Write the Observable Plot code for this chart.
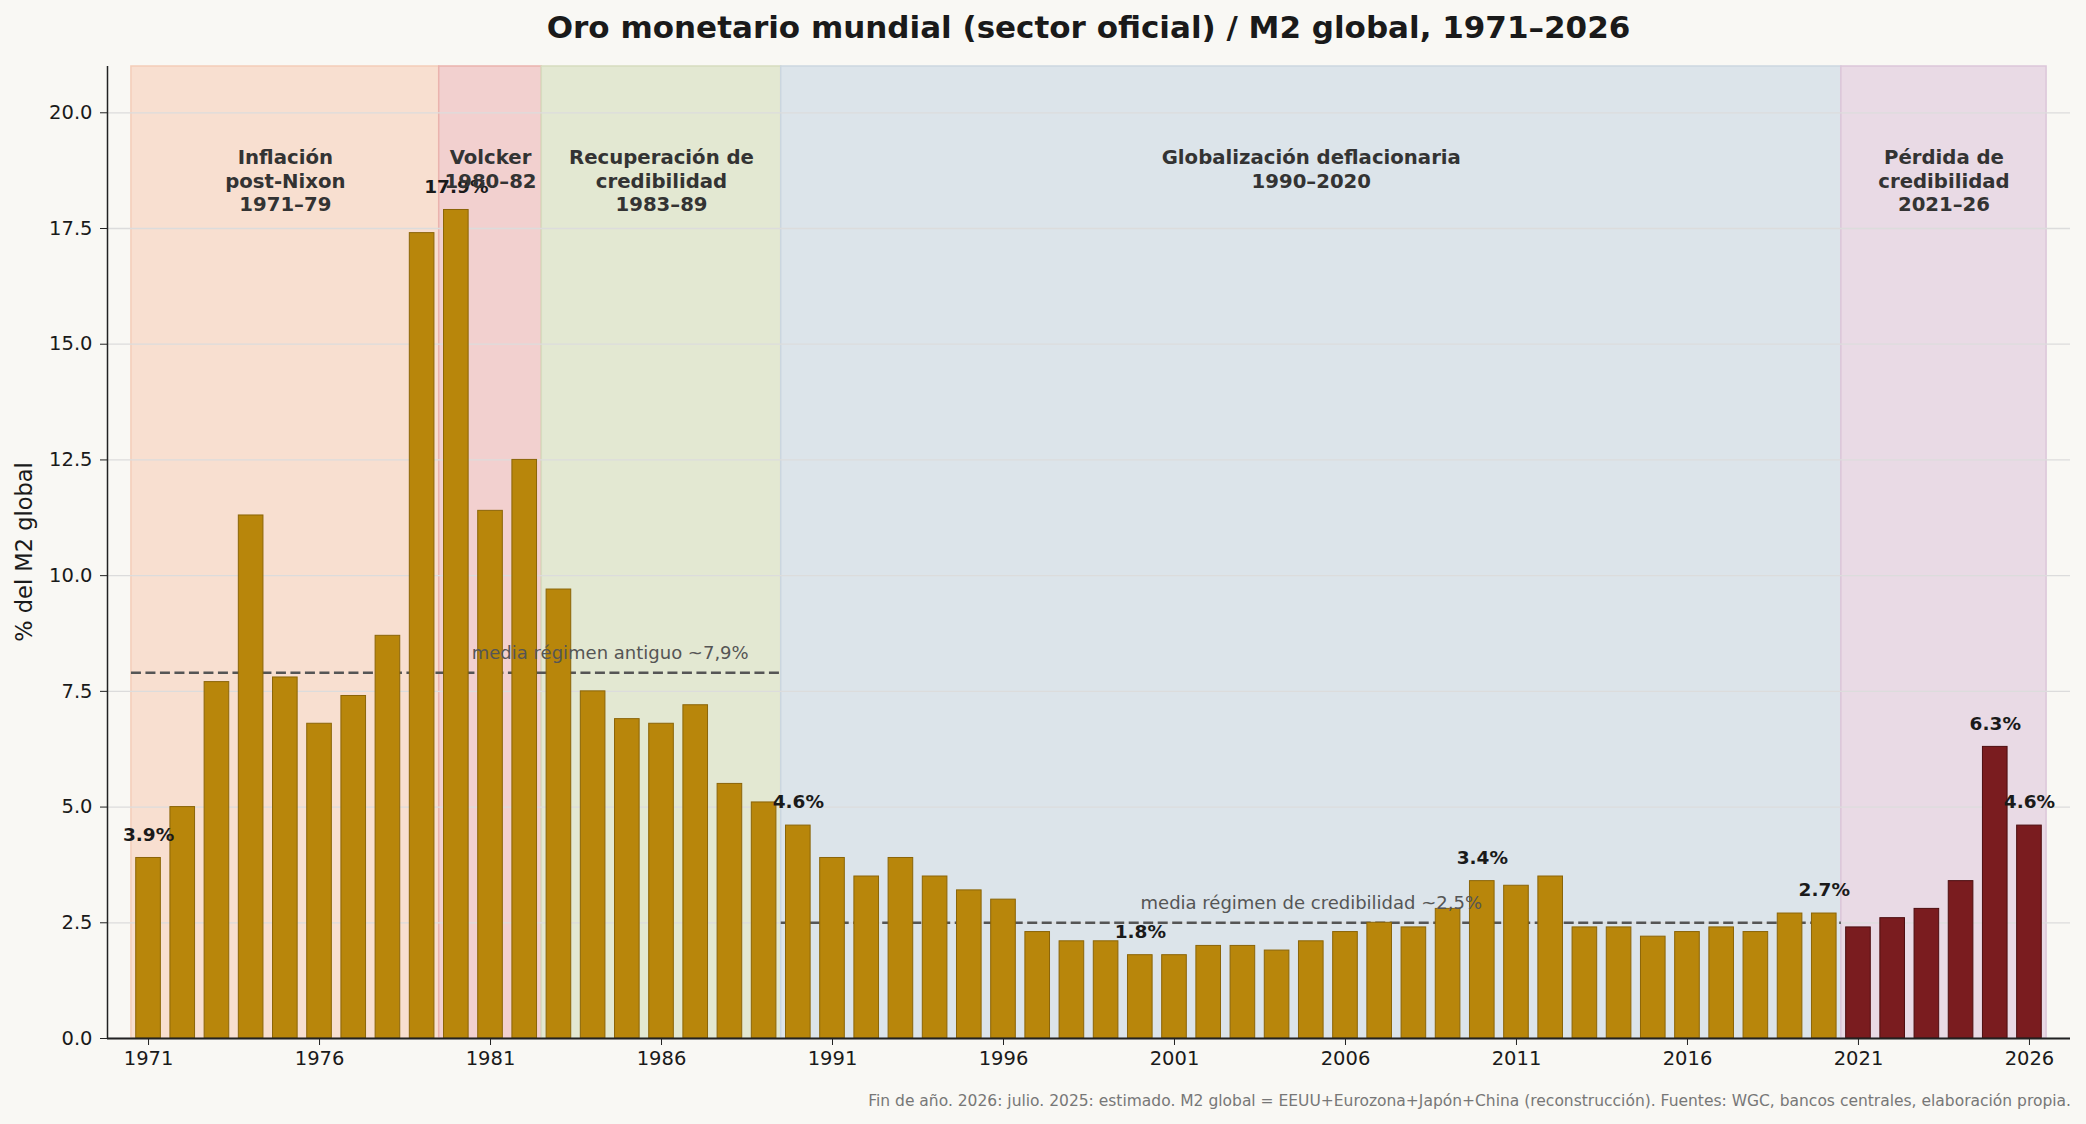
<!DOCTYPE html>
<html><head><meta charset="utf-8">
<script src="https://cdn.jsdelivr.net/npm/d3@7"></script>
<script src="https://cdn.jsdelivr.net/npm/@observablehq/plot@0.6"></script>
<style>
body{margin:0;background:#f9f8f4;}
#wrap{position:relative;width:2086px;height:1124px;background:#f9f8f4;font-family:"DejaVu Sans",sans-serif;overflow:hidden}
#chart{position:absolute;left:0;top:0}
#title{position:absolute;left:107px;width:1963px;top:9px;text-align:center;font-weight:bold;font-size:31px;color:#1a1a1a;white-space:nowrap}
#ylab{position:absolute;left:24px;top:552px;transform:translate(-50%,-50%) rotate(-90deg);font-size:22.5px;color:#1a1a1a;white-space:nowrap}
#cap{position:absolute;right:15px;top:1092px;font-size:15.5px;color:#777;white-space:nowrap}
</style></head><body>
<div id="wrap">
<div id="chart"></div>
<div id="title">Oro monetario mundial (sector oficial) / M2 global, 1971–2026</div>
<div id="ylab">% del M2 global</div>
<div id="cap">Fin de año. 2026: julio. 2025: estimado. M2 global = EEUU+Eurozona+Japón+China (reconstrucción). Fuentes: WGC, bancos centrales, elaboración propia.</div>
</div>
<script>
const years = [1971,1972,1973,1974,1975,1976,1977,1978,1979,1980,1981,1982,1983,1984,1985,1986,1987,1988,1989,1990,
  1991,1992,1993,1994,1995,1996,1997,1998,1999,2000,2001,2002,2003,2004,2005,2006,2007,2008,2009,2010,
  2011,2012,2013,2014,2015,2016,2017,2018,2019,2020,2021,2022,2023,2024,2025,2026];
const values = [3.9,5.0,7.7,11.3,7.8,6.8,7.4,8.7,17.4,17.9,11.4,12.5,9.7,7.5,6.9,6.8,7.2,5.5,5.1,4.6,
  3.9,3.5,3.9,3.5,3.2,3.0,2.3,2.1,2.1,1.8,1.8,2.0,2.0,1.9,2.1,2.3,2.5,2.4,2.8,3.4,
  3.3,3.5,2.4,2.4,2.2,2.3,2.4,2.3,2.7,2.7,2.4,2.6,2.8,3.4,6.3,4.6];
const labelYears = [1971,1980,1990,2000,2010,2020,2025,2026];

const regimeNames = ["Inflación\npost-Nixon\n1971–79","Volcker\n1980–82","Recuperación de\ncredibilidad\n1983–89","Globalización deflacionaria\n1990–2020","Pérdida de\ncredibilidad\n2021–26"];
const regimeStart = [1970.5,1979.5,1982.5,1989.5,2020.5];
const regimeEnd   = [1979.5,1982.5,1989.5,2020.5,2026.5];
const regimeFill  = ["#f8dfd0","#f2d0cf","#e3e8d2","#dce4ea","#e9dae5"];
const regimeEdge  = ["#f3cdb8","#eab3ad","#d6dcbf","#cbd6df","#dcc6d9"];

const meanLabels = ["media régimen antiguo ~7,9%","media régimen de credibilidad ~2,5%"];
const meanValues = [7.9,2.5];
const meanStart = [1970.5,1989.5];
const meanEnd = [1989.5,2020.5];
const meanLabelX = [1984.5,2005];

const xTicks = [1971,1976,1981,1986,1991,1996,2001,2006,2011,2016,2021,2026];
const yTicks = [0,2.5,5,7.5,10,12.5,15,17.5,20];
const xDomain = [1969.8,2027.2];
const yDomain = [0,21];

const data = years.map((y,i)=>({year:y, value:values[i], recent: y>=2021}));
const regimes = regimeNames.map((n,i)=>({name:n,start:regimeStart[i],end:regimeEnd[i],fill:regimeFill[i],edge:regimeEdge[i]}));
const means = meanLabels.map((l,i)=>({label:l,value:meanValues[i],start:meanStart[i],end:meanEnd[i],lx:meanLabelX[i]}));
const labelled = data.filter(d=>labelYears.includes(d.year));
const half = 0.36;

const chart = Plot.plot({
  width:2086, height:1124,
  marginLeft:107, marginRight:16, marginTop:66, marginBottom:86,
  style:{fontFamily:"DejaVu Sans", fontSize:"19.5px", background:"transparent", color:"#1a1a1a"},
  x:{type:"linear", domain:xDomain, label:null},
  y:{domain:yDomain, label:null},
  marks:[
    Plot.rect(regimes,{x1:"start",x2:"end",fill:d=>d.fill,stroke:d=>d.edge,strokeWidth:1.5}),
    Plot.ruleY(yTicks,{stroke:"#dcdcdc",strokeWidth:1.3}),
    Plot.ruleY(means,{y:"value",x1:"start",x2:"end",stroke:"#555",strokeWidth:2.5,strokeDasharray:"10,4.5"}),
    Plot.rect(data,{x1:d=>d.year-half,x2:d=>d.year+half,y1:0,y2:"value",
      fill:d=>d.recent?"#7a1c1f":"#b8860b", stroke:d=>d.recent?"#4d0e10":"#8b6508", strokeWidth:1}),
    Plot.text(means,{x:"lx",y:d=>d.value+0.42,text:"label",fill:"#555",fontSize:18,textAnchor:"middle",lineAnchor:"middle"}),
    Plot.text(labelled,{x:"year",y:d=>d.value+0.5,text:d=>d.value.toFixed(1)+"%",fontWeight:"bold",fontSize:18.5,fill:"#1a1a1a",lineAnchor:"middle"}),
    Plot.text(regimes,{x:d=>(d.start+d.end)/2,y:()=>19.25,text:"name",fontWeight:"bold",fontSize:19.7,fill:"#333",lineAnchor:"top",lineHeight:1.19}),
    Plot.ruleY([0],{stroke:"#222",strokeWidth:2}),
    Plot.ruleX([xDomain[0]],{stroke:"#222",strokeWidth:1.5}),
    Plot.axisX({ticks:xTicks,tickFormat:d=>String(d),tickSize:7,tickPadding:6,fontSize:19.5,stroke:"#222",label:null}),
    Plot.axisY({ticks:yTicks,tickFormat:d3.format(".1f"),tickSize:7,tickPadding:8,fontSize:19.5,stroke:"#222",label:null})
  ]
});
document.getElementById("chart").appendChild(chart);
</script>
</body></html>
